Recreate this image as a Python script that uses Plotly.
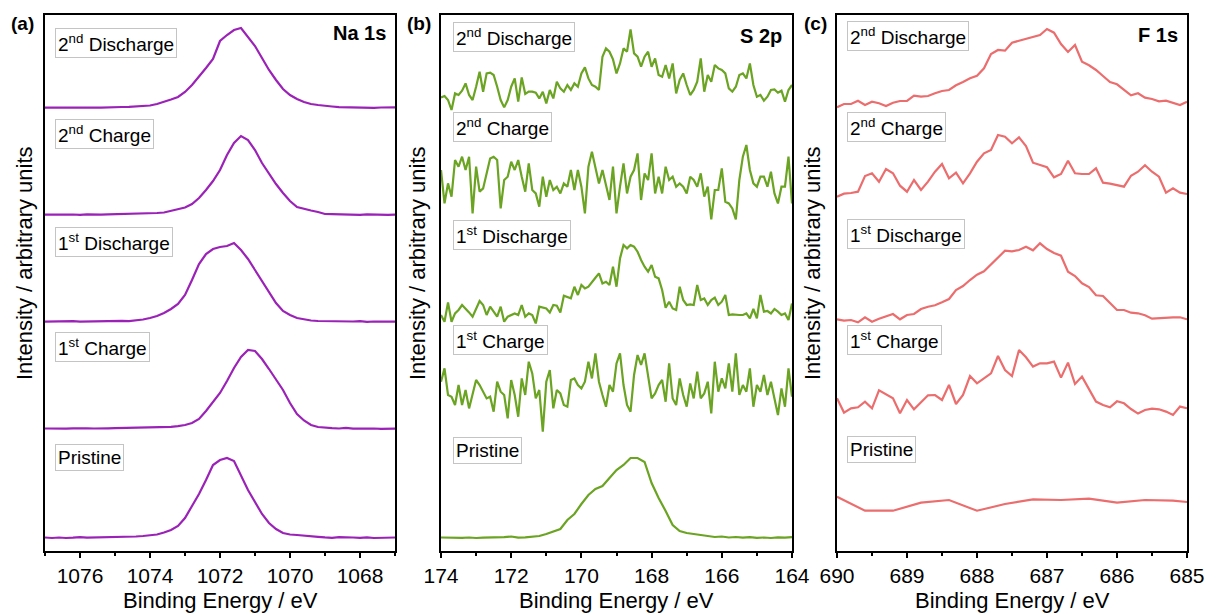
import plotly.graph_objects as go

# ---------------- data ----------------
STAGES = ["Pristine", "1st Charge", "1st Discharge", "2nd Charge", "2nd Discharge"]
STAGE_LABELS = ["Pristine", "1<sup>st</sup> Charge", "1<sup>st</sup> Discharge",
                "2<sup>nd</sup> Charge", "2<sup>nd</sup> Discharge"]

# Na 1s, 1077 -> 1067 eV in 0.2 eV steps
BE_NA = [round(1077 - 0.2 * i, 1) for i in range(51)]
NA_PRISTINE = [0.5, 0, 0.5, 0, 0.3, 0.8, 0.3, 0.5, 0.2, 0.8, 0.6, 1.0, 0.8, 1.5, 2.0, 2.5, 3.5, 5.5, 8, 12,
               20, 32, 44, 58, 73, 78, 80, 77, 62, 48, 36, 24, 15, 9, 5, 3.5, 3, 2.2, 1.5, 1.2,
               0.6, 0.2, 0.8, 0.3, 0.5, 0.2, 0.6, 0, 0.4, 0.3, 0.5]
NA_CHARGE1 = [0.5, 0.3, 0.8, 0.4, 0.6, 0.3, 0.7, 0.5, 0.9, 0.6, 0.8, 1.0, 0.9, 1.2, 1.0, 1.4, 1.6, 1.9, 2.2, 2.8,
              4, 6, 10, 18, 27, 36, 48, 61, 72, 79, 78, 70, 60, 50, 39, 26, 15, 8.5, 4, 2,
              1.2, 0.8, 0.5, 1.2, 0.4, 0.6, 0.3, 0.5, 0.2, 0.4, 0.3]
NA_DISCHARGE1 = [0.3, 0.6, 0.2, 0.5, 0.8, 0.4, 0.6, 0.3, 0.7, 0.5, 0.9, 1.2, 0.8, 1.5, 2.5, 4, 6, 9, 13, 18,
                 27, 42, 58, 68, 73, 75, 76, 79, 72, 63, 52, 41, 30, 19, 11, 7, 4, 2.5, 1.5, 1.0,
                 0.8, 0.4, 0.7, 0.3, 0.5, 0.8, 0.2, 0.5, 0.3, 0.6, 0.3]
NA_CHARGE2 = [0.4, 0.2, 0.6, 0.3, 0.5, 0.2, 0.7, 0.4, 0.3, 0.6, 0.8, 0.5, 1.0, 0.8, 1.2, 1.5, 2, 2.5, 4, 5.5,
              7.5, 11, 17, 25, 34, 45, 60, 72, 79, 75, 65, 52, 41, 31, 22, 14, 8, 6, 4.5, 3,
              1, 0.8, 0.5, 0.9, 0.4, 0.2, 0.6, 0.3, 0.5, 0.2, 0.4]
NA_DISCHARGE2 = [0.3, 0.5, 0.2, 0.6, 0.4, 0.3, 0.7, 0.5, 0.4, 0.8, 0.6, 1.0, 1.2, 1.5, 2, 2.5, 4, 6, 8.5, 11,
                 16, 23, 31, 40, 49, 67, 73, 78, 80, 71, 62, 50, 38, 28, 19, 13, 9, 6, 4, 3,
                 2, 1.5, 0.8, 0.6, 0.3, 0.7, 0.4, 0.2, 0.5, 0.3, 0.6]
NA_OFFSETS = [13, 122, 229, 336, 443]

# S 2p: pristine in 0.2 eV steps, cycled samples in 0.1 eV steps (174 -> 164 eV)
BE_S_PRISTINE = [round(174 - 0.2 * i, 1) for i in range(51)]
S_PRISTINE = [0.5, 0.3, 0.8, 0.2, 0.5, 0, 0.4, 0.6, 0.2, 0.8, 1.5, 0.3, 0.6, 1.2, 2, 4, 6.5, 9, 18, 24,
              34, 43, 49, 52, 60, 68, 73, 80, 80, 76, 55, 40, 27, 13, 7, 5, 4, 3, 2, 1,
              1.5, 0.5, 1, 0.3, 0.8, 0.2, 0.5, 0, 0.6, 0.3, 0.8]
BE_S = [round(174 - 0.1 * i, 1) for i in range(101)]
S_CHARGE1 = [30, 43.3, 16.7, 15, 6.7, 26.7, 6.7, 21.7, 3.3, 18.3,
             31.7, 26.7, 20, 13.3, 15, 0, 30, 20, 16.7, -6.7,
             31.7, 16.7, -5, 33.3, 16.7, 50, 38.3, 13.3, 21.7, -20,
             30, 41.7, 3.3, 21.7, 18.3, 6.7, 5, 31.7, 33.3, 26.7,
             23.3, 30, 50, 33.3, 58.3, 30, 16.7, 5, 26.7, 20,
             48.3, 58.3, 26.7, 6.7, 0, 36.7, 56.7, 46.7, 58.3, 33.3,
             13.3, 18.3, 26.7, 31.7, 10, 48.3, 13.3, 6.7, 33.3, 16.7,
             5, 28.3, 13.3, 40, 13.3, 18.3, 30, -1.7, 50, 20,
             33.3, 23.3, 48.3, 20, 58.3, 16.7, 26.7, 20, 43.3, 5,
             26.7, 20, 36.7, 16.7, 30, 13.3, -3.3, 23.3, 5, 43.3,
             15]
S_DISCHARGE1 = [6.7, 0, 19.3, 0, 8.3, 11.7, 16.7, 13.3, 9.3, 5,
                13.3, 20.7, 16.7, 6.7, 15, 10, 5, 15, 0, 5,
                6.7, 8.3, 6.7, 16.7, 5, 8.3, 6.7, -1.7, 15, 14,
                13.3, 9.3, 16.7, 16, 9.3, 26, 25, 23.3, 35, 26.7,
                36.7, 33.3, 35, 40, 44, 48.3, 38.3, 40, 36.7, 55,
                35, 63.3, 76.7, 73.3, 76.7, 75, 70, 61.7, 55, 50,
                56.7, 45, 43.3, 31.7, 14, 20, 13.3, 11.7, 35, 21.7,
                16.7, 17.3, 16.7, 36.7, 21.7, 23.3, 16.7, 21.7, 24, 16.7,
                20, 26.7, 6.7, 7.3, 6.7, 6.7, 6.7, 8.3, 3.3, 12.7,
                3.3, 26.7, 10, 10.7, 8.3, 12.7, 10, 6.7, 8.3, 1.7,
                18.3]
S_CHARGE2 = [36.7, 3.3, 23.3, 10, 46.7, 40, 50, 36.7, 50, -6.7,
             40, 15, 18.3, 33.3, 48.3, 50, 46.7, -1.7, 26.7, 30,
             45, 36.7, 46.7, 30, 15, 43.3, 16.7, 13.3, 0, 30,
             10, 26.7, 16.7, 20, 13.3, 23.3, 20, 36.7, 16.7, 36.7,
             20, -6.7, 40, 55, 40, 23.3, 36.7, 20, 6.7, 40,
             -6.7, 20, 43.3, 13.3, 30, 36.7, 53.3, 6.7, 33.3, 26.7,
             53.3, 13.3, 30, 13.3, 40, 26.7, 30, 20, 23.3, 20,
             13.3, 30, 26.7, 20, 33.3, 10, 20, -12.7, 16.7, 16.7,
             38.3, 5, 3.3, -1.7, -12.7, 26.7, 50, 61.7, 36.7, 23.3,
             20, 30, 30, 20, 35, 13.3, 3.3, 20, 20, 50,
             3.3]
S_DISCHARGE2 = [9.3, 10.7, 6.7, -3.3, 13.3, 11.7, 16, 23.3, 11.7, 6.7,
                20, 35, 15, 33.3, 34, 31.7, 20, 6.7, -0.7, 6.7,
                20, 28.3, 5, 29.3, 12.7, 15, 15, 14, 8.3, 15,
                3.3, 16.7, 8.3, 25, 18.3, 15, 21.7, 16.7, 23.3, 20,
                33.3, 39.3, 28.3, 21.7, 20, 16.7, 50, 58.3, 55, 47.3,
                33.3, 43.3, 58.3, 55, 77.3, 53.3, 50, 40, 50, 55,
                40, 48.3, 31.7, 30, 41.7, 28.3, 43.3, 13.3, 26.7, 33.3,
                21.7, 11.7, 16.7, 25, 48.3, 15, 31.7, 25, 41.7, 38.3,
                36.7, 33.3, 18.3, 15, 20, 31.7, 33.3, 28.3, 43.3, 21.7,
                10, 11.7, 6, 10, 16.7, 17.3, 14, 16, 5, 16.7,
                21.7]
S_OFFSETS = [13, 139.3, 229.3, 344.3, 444.3]

# F 1s, 690 -> 685 eV; pristine sampled coarsely
BE_F_PRISTINE = [690, 689.6, 689.2, 688.8, 688.4, 688.0, 687.6, 687.2, 686.8, 686.4, 686.0, 685.6, 685.2, 685.0]
F_PRISTINE = [14, 0, 0, 8, 10.7, 0, 6.7, 11.3, 10.7, 12, 8, 10.7, 10, 8.7]
BE_F = [round(690 - 0.1 * i, 1) for i in range(51)]
F_CHARGE1 = [10, -4.3, 0, 1, 6.7, 0, 18, 14.3, 10, -5,
             8.3, -1, 5.7, 13, 13.3, 8.3, 23.3, 4.3, 13.3, 32.3,
             25, 30, 35, 52.3, 38.3, 32.3, 58.3, 51, 41.7, 45,
             45, 46.7, 30.7, 45.7, 24.3, 31.7, 19, 6.7, 3.3, 1,
             7, 5, -0.7, -5.3, -1.7, -0.3, -1, -3.3, -6.7, 1.7,
             0]
F_DISCHARGE1 = [0.7, -0.7, 0, -2.3, 2.7, -1.7, 1.3, 3.3, 6, 0.7,
                5, 6, 11, 13.3, 14.7, 17.7, 21, 30, 34, 40,
                45.3, 48.7, 55.7, 62.3, 69.3, 68.7, 70, 73.3, 69.7, 76.7,
                71, 67, 64.3, 48.3, 44, 36.7, 33, 24.7, 24, 17,
                10, 10, 7.3, 6.7, 4.7, 1.3, 2, 2.7, 2.7, 2.7,
                0.7]
F_CHARGE2 = [-1.7, 1.3, 2, 3.3, 19, 21.7, 13.3, 26, 21.7, 9.3,
             3.3, 15, 5, 13.3, 23.3, 31, 16.7, 22.3, 11.7, 21.7,
             33.3, 41.7, 45, 60, 58.3, 51.7, 57.7, 49, 32.3, 29.7,
             27.7, 17.7, 21, 34.3, 21.7, 21, 21, 26.7, 12.3, 11.3,
             9.7, 8.3, 19.3, 23.3, 29.7, 23.3, 18.3, 2.3, 6.7, 2.3,
             1]
F_DISCHARGE2 = [-1.3, 2, 2, 5.3, 1, 4.3, 2.7, 0, 3.3, 5,
                5, 10.3, 9.3, 10, 12.7, 15, 16, 20.7, 24, 27.7,
                30.3, 37.7, 52, 56, 55.3, 63.3, 65.3, 67.3, 69.3, 71,
                77, 73.3, 62, 54, 61, 44.3, 40.7, 36, 30, 24,
                21.7, 16, 10.7, 12.7, 8.3, 7, 4.7, 5.3, 3.3, 1,
                4.3]
F_OFFSETS = [40.3, 142.7, 231, 356, 445]

# ---------------- figure ----------------
W, H = 1209, 613
FONT = "Arial, 'Liberation Sans', sans-serif"
COL_NA = "#9a22b6"
COL_S = "#6ba322"
COL_F = "#eb6d6e"


def px_x(p):
    return p / W


def px_y(p):
    return 1 - p / H


panels = [
    dict(axis="", dom=(45, 395), rng=[1077, 1067], tick0=1068, dtick=2, minor=1, color=COL_NA,
         series=[(BE_NA, NA_PRISTINE), (BE_NA, NA_CHARGE1), (BE_NA, NA_DISCHARGE1),
                 (BE_NA, NA_CHARGE2), (BE_NA, NA_DISCHARGE2)],
         offsets=NA_OFFSETS, tag="(a)", tag_x=22, title="Na 1s", title_r=388, title_y=33,
         label_x=55, label_y=[457, 347, 242, 134, 43], ytitle_x=24),
    dict(axis="2", dom=(441, 792), rng=[174, 164], tick0=164, dtick=2, minor=1, color=COL_S,
         series=[(BE_S_PRISTINE, S_PRISTINE), (BE_S, S_CHARGE1), (BE_S, S_DISCHARGE1),
                 (BE_S, S_CHARGE2), (BE_S, S_DISCHARGE2)],
         offsets=S_OFFSETS, tag="(b)", tag_x=419, title="S 2p", title_r=784, title_y=36,
         label_x=453, label_y=[450, 340, 235, 127, 37], ytitle_x=417),
    dict(axis="3", dom=(837, 1187), rng=[690, 685], tick0=685, dtick=1, minor=0.5, color=COL_F,
         series=[(BE_F_PRISTINE, F_PRISTINE), (BE_F, F_CHARGE1), (BE_F, F_DISCHARGE1),
                 (BE_F, F_CHARGE2), (BE_F, F_DISCHARGE2)],
         offsets=F_OFFSETS, tag="(c)", tag_x=815, title="F 1s", title_r=1180, title_y=35,
         label_x=847, label_y=[449, 340, 234, 127, 36], ytitle_x=812),
]

PLOT_TOP, PLOT_BOTTOM = 15, 551

fig = go.Figure()
annotations = []
layout = dict(
    width=W, height=H,
    margin=dict(l=0, r=0, t=0, b=0, pad=0),
    paper_bgcolor="white", plot_bgcolor="white",
    showlegend=False,
    font=dict(family=FONT, color="black"),
)

for p in panels:
    xa, ya = "x" + p["axis"], "y" + p["axis"]
    for (be, vals), off in zip(p["series"], p["offsets"]):
        fig.add_trace(go.Scatter(
            x=be, y=[v + off for v in vals], mode="lines",
            line=dict(color=p["color"], width=2.2),
            xaxis=xa, yaxis=ya, hoverinfo="skip",
        ))
    layout["xaxis" + p["axis"]] = dict(
        domain=[px_x(p["dom"][0]), px_x(p["dom"][1])],
        range=p["rng"], anchor=ya, automargin=False,
        tickmode="linear", tick0=p["tick0"], dtick=p["dtick"],
        ticks="outside", ticklen=5, tickwidth=1.5, tickcolor="black",
        minor=dict(dtick=p["minor"], ticks="outside", ticklen=3, tickwidth=1.5, tickcolor="black"),
        tickfont=dict(size=21, family=FONT, color="black"),
        showline=True, mirror=True, linecolor="black", linewidth=2,
        showgrid=False, zeroline=False,
    )
    layout["yaxis" + p["axis"]] = dict(
        domain=[px_y(PLOT_BOTTOM), px_y(PLOT_TOP)],
        range=[0, PLOT_BOTTOM - PLOT_TOP], anchor=xa, automargin=False,
        showticklabels=False, ticks="",
        showline=True, mirror=True, linecolor="black", linewidth=2,
        showgrid=False, zeroline=False,
    )
    # stage labels in boxes
    for lbl, ly in zip(STAGE_LABELS, p["label_y"]):
        annotations.append(dict(
            text=lbl, xref="paper", yref="paper",
            x=px_x(p["label_x"]), y=px_y(ly), xanchor="left", yanchor="middle",
            showarrow=False, font=dict(size=19, family=FONT, color="black"),
            bgcolor="white", bordercolor="#c4c4c4", borderwidth=1, borderpad=2,
        ))
    # core level name
    annotations.append(dict(
        text="<b>%s</b>" % p["title"], xref="paper", yref="paper",
        x=px_x(p["title_r"]), y=px_y(p["title_y"]), xanchor="right", yanchor="middle",
        showarrow=False, font=dict(size=20, family=FONT, color="black"),
    ))
    # panel tag
    annotations.append(dict(
        text="<b>%s</b>" % p["tag"], xref="paper", yref="paper",
        x=px_x(p["tag_x"]), y=px_y(24), xanchor="center", yanchor="middle",
        showarrow=False, font=dict(size=19, family=FONT, color="black"),
    ))
    # axis titles
    annotations.append(dict(
        text="Binding Energy / eV", xref="paper", yref="paper",
        x=px_x((p["dom"][0] + p["dom"][1]) / 2), y=px_y(600), xanchor="center", yanchor="middle",
        showarrow=False, font=dict(size=22, family=FONT, color="black"),
    ))
    annotations.append(dict(
        text="Intensity / arbitrary units", xref="paper", yref="paper",
        x=px_x(p["ytitle_x"]), y=px_y(263), xanchor="center", yanchor="middle",
        textangle=-90, showarrow=False, font=dict(size=22, family=FONT, color="black"),
    ))

layout["annotations"] = annotations
fig.update_layout(**layout)
fig.write_html("out.html")
